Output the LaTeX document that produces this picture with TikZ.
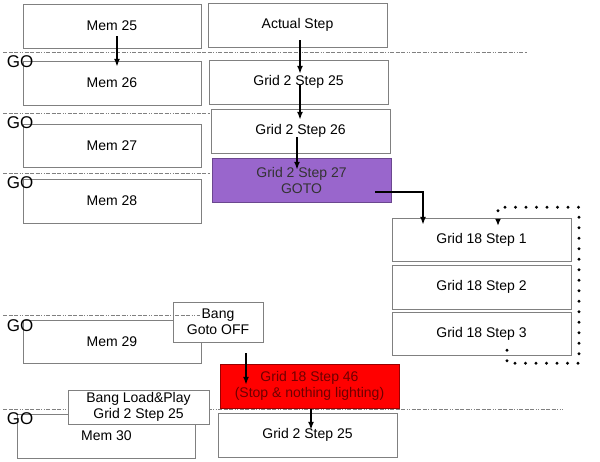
\documentclass[tikz,border=0pt]{standalone}
\usepackage{fontspec}
\setmainfont{Liberation Sans}
\usepackage{xcolor}
\usetikzlibrary{arrows.meta}
\definecolor{boxline}{RGB}{128,128,128}
\definecolor{gotofill}{RGB}{153,102,204}
\definecolor{stopfill}{RGB}{255,0,0}
\definecolor{stoptext}{RGB}{110,0,0}

\tikzset{
  box/.style={draw=boxline, fill=white, minimum width=178pt, minimum height=44pt, inner sep=0pt, align=center, font=\fontsize{14}{16}\selectfont},
  golabel/.style={inner sep=0pt, font=\fontsize{17}{18}\selectfont},
  cut/.style={draw=boxline, line width=0.8pt, dash pattern=on 4pt off 1.5pt on 4pt off 1.5pt on 4pt off 1.5pt on 1pt off 1.5pt on 1pt off 1.5pt},
  arr/.style={-{Latex[length=8pt,width=6pt]}, line width=1.7pt},
  loopline/.style={-{Latex[length=7pt,width=6pt]}, line width=3.2pt, line cap=round, dash pattern=on 0pt off 10.5pt},
}

\begin{document}
\begin{tikzpicture}[x=1pt, y=-1pt]
\useasboundingbox (0,0) rectangle (600,461);
% section cuts
\draw[cut] (3,52) -- (527,52);
\draw[cut] (3,113) -- (210,113);
\draw[cut] (3,173) -- (210,173);
\draw[cut] (3,409) -- (563,409);
% memory column
\node[box] (mem25) at (112,26) {Mem 25};
\node[box] (mem26) at (112,83) {Mem 26};
\node[box, minimum height=43pt] (mem27) at (112,145.5) {Mem 27};
\node[box] (mem28) at (112,201) {Mem 28};
\node[box, minimum height=43pt] (mem29) at (112,341.5) {Mem 29};
\node[box] (mem30) at (106.5,436) {Mem 30};
% step column
\node[box, minimum width=179pt] (actual) at (297.5,25) {Actual Step};
\node[box, minimum width=179pt] (g225) at (298.5,82) {Grid 2 Step 25};
\node[box, minimum width=179pt] (g226) at (300.5,131) {Grid 2 Step 26};
\node[box, minimum width=179pt, fill=gotofill, draw=gotofill!70!black, text=black!80] (g227) at (301.5,180) {Grid 2 Step 27\\GOTO};
\node[box, minimum width=179pt, minimum height=43pt] (g181) at (481.5,239.5) {Grid 18 Step 1};
\node[box, minimum width=179pt] (g182) at (481.5,287) {Grid 18 Step 2};
\node[box, minimum width=179pt, minimum height=43pt] (g183) at (481.5,333.5) {Grid 18 Step 3};
\node[box, minimum width=179pt, fill=stopfill, draw=stopfill!60!black, text=stoptext] (g1846) at (309.5,386) {Grid 18 Step 46\\(Stop \& nothing lighting)};
\node[box, minimum width=179pt] (g225b) at (307.5,435) {Grid 2 Step 25};
% bang notes
\node[box, minimum width=90pt, minimum height=40pt] (bangoff) at (218,322) {Bang\\Goto OFF};
\node[box, minimum width=141pt, minimum height=34pt] (bangload) at (138.5,407) {Bang Load\&Play\\Grid 2 Step 25};
\draw[cut] (3,315) -- (200,315);
% GO marks
\node[golabel] (go1) at (20,62) {GO};
\node[golabel] (go2) at (20,123) {GO};
\node[golabel] (go3) at (20,183) {GO};
\node[golabel] (go4) at (20,326) {GO};
\node[golabel] (go5) at (20,419) {GO};
% arrows
\draw[arr] ([shift={(5,-12)}]mem25.south) -- ([shift={(5,6)}]mem26.north);
\draw[arr] ([shift={(2.5,-7)}]actual.south) -- ([shift={(1.5,14)}]g225.north);
\draw[arr] ([shift={(1.5,-19)}]g225.south) -- ([shift={(-0.5,11)}]g226.north);
\draw[arr] ([shift={(-3.5,-16)}]g226.south) -- ([shift={(-4.5,12)}]g227.north);
\draw[arr] ([shift={(-16,12)}]g227.east) -| ([shift={(-58.5,7)}]g181.north);
\draw[arr] ([shift={(28,11)}]bangoff.south) -- ([shift={(-63.5,21)}]g1846.north);
\draw[arr] ([shift={(1.5,1)}]g1846.south) -- ([shift={(3.5,17)}]g225b.north);
% loop back
\draw[loopline]
  ([shift={(25.5,-5)}]g183.south) -- ++(0,13) -- ++(72,0) -- ++(0,-156) -- ++(-81,0)
  -- ([shift={(16.5,8)}]g181.north);
\end{tikzpicture}
\end{document}
